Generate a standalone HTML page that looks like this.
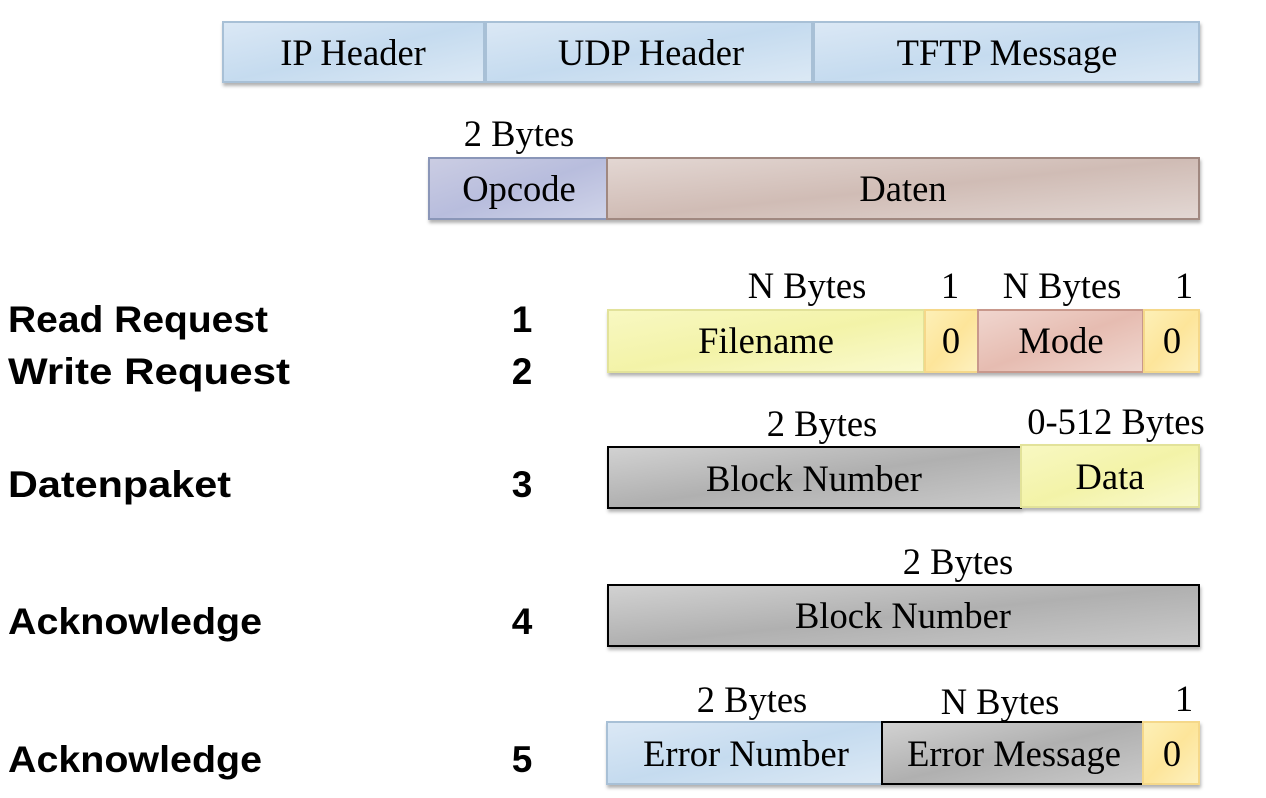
<!DOCTYPE html>
<html><head><meta charset="utf-8"><style>
html,body{margin:0;padding:0;background:#fff;}
svg{display:block}
.t{font-family:"Liberation Serif",serif;font-size:36.5px;fill:#000;text-anchor:middle}
.b{font-family:"Liberation Sans",sans-serif;font-weight:bold;font-size:37px;fill:#000}
.n{font-family:"Liberation Sans",sans-serif;font-weight:bold;font-size:37px;fill:#000;text-anchor:middle}
</style></head><body>
<svg width="1266" height="798" viewBox="0 0 1266 798" xmlns="http://www.w3.org/2000/svg">
<defs>
<linearGradient id="blue" x1="0" y1="0" x2="1" y2="1"><stop offset="0" stop-color="#dbe8f5"/><stop offset=".5" stop-color="#c5dbef"/><stop offset="1" stop-color="#dce9f5"/></linearGradient>
<linearGradient id="purp" x1="0" y1="0" x2="1" y2="1"><stop offset="0" stop-color="#cbcde3"/><stop offset=".5" stop-color="#b8bddd"/><stop offset="1" stop-color="#d0d4e9"/></linearGradient>
<linearGradient id="brown" x1="0" y1="0" x2="1" y2="1"><stop offset="0" stop-color="#e3d7d3"/><stop offset=".5" stop-color="#d0bcb5"/><stop offset="1" stop-color="#e3d8d4"/></linearGradient>
<linearGradient id="yel" x1="0" y1="0" x2="1" y2="1"><stop offset="0" stop-color="#f8f8c2"/><stop offset=".5" stop-color="#f3f3a8"/><stop offset="1" stop-color="#fafad0"/></linearGradient>
<linearGradient id="org" x1="0" y1="0" x2="1" y2="1"><stop offset="0" stop-color="#fdf0b8"/><stop offset=".5" stop-color="#fde59a"/><stop offset="1" stop-color="#fdf1c0"/></linearGradient>
<linearGradient id="pink" x1="0" y1="0" x2="1" y2="1"><stop offset="0" stop-color="#f0d6cf"/><stop offset=".5" stop-color="#e6bcb1"/><stop offset="1" stop-color="#f0d8d1"/></linearGradient>
<linearGradient id="gray" x1="0" y1="0" x2="1" y2="1"><stop offset="0" stop-color="#d2d2d2"/><stop offset=".5" stop-color="#b0b0b0"/><stop offset="1" stop-color="#cacaca"/></linearGradient>
<filter id="sh" x="-5%" y="-10%" width="110%" height="130%"><feDropShadow dx="1" dy="3" stdDeviation="1.5" flood-color="#000" flood-opacity="0.3"/></filter>
</defs>

<g filter="url(#sh)">
<rect x="223" y="22" width="261" height="60" fill="url(#blue)" stroke="#a8c0d6" stroke-width="2"/>
<rect x="486" y="22" width="326" height="60" fill="url(#blue)" stroke="#a8c0d6" stroke-width="2"/>
<rect x="814" y="22" width="385" height="60" fill="url(#blue)" stroke="#a8c0d6" stroke-width="2"/>
</g>
<text class="t" x="353" y="65">IP Header</text>
<text class="t" x="651" y="65">UDP Header</text>
<text class="t" x="1007" y="65">TFTP Message</text>

<text class="t" x="519" y="146">2 Bytes</text>
<g filter="url(#sh)">
<rect x="429" y="158" width="178" height="61" fill="url(#purp)" stroke="#8a96b8" stroke-width="2"/>
<rect x="607" y="158" width="592" height="61" fill="url(#brown)" stroke="#a08880" stroke-width="2"/>
</g>
<text class="t" x="519" y="201">Opcode</text>
<text class="t" x="903" y="201">Daten</text>

<text class="b" x="8" y="332" textLength="260" lengthAdjust="spacingAndGlyphs">Read Request</text>
<text class="b" x="8" y="384" textLength="282" lengthAdjust="spacingAndGlyphs">Write Request</text>
<text class="b" x="8" y="497" textLength="223" lengthAdjust="spacingAndGlyphs">Datenpaket</text>
<text class="b" x="8" y="634" textLength="254" lengthAdjust="spacingAndGlyphs">Acknowledge</text>
<text class="b" x="8" y="772" textLength="254" lengthAdjust="spacingAndGlyphs">Acknowledge</text>
<text class="n" x="522" y="332">1</text>
<text class="n" x="522" y="384">2</text>
<text class="n" x="522" y="497">3</text>
<text class="n" x="522" y="634">4</text>
<text class="n" x="522" y="772">5</text>

<text class="t" x="807" y="298">N Bytes</text>
<text class="t" x="950" y="298">1</text>
<text class="t" x="1062" y="298">N Bytes</text>
<text class="t" x="1184" y="298">1</text>
<g filter="url(#sh)">
<rect x="608" y="310" width="316" height="62" fill="url(#yel)" stroke="#e2e29a" stroke-width="2"/>
<rect x="925" y="310" width="53" height="62" fill="url(#org)" stroke="#f5d88a" stroke-width="2"/>
<rect x="978" y="310" width="165" height="62" fill="url(#pink)" stroke="#c8988c" stroke-width="2"/>
<rect x="1144" y="310" width="55" height="62" fill="url(#org)" stroke="#f5d88a" stroke-width="2"/>
</g>
<text class="t" x="766" y="353">Filename</text>
<text class="t" x="951" y="353">0</text>
<text class="t" x="1061" y="353">Mode</text>
<text class="t" x="1172" y="353">0</text>

<text class="t" x="822" y="436">2 Bytes</text>
<text class="t" x="1116" y="434">0-512 Bytes</text>
<g filter="url(#sh)">
<rect x="608" y="447" width="413" height="61" fill="url(#gray)" stroke="#000" stroke-width="2"/>
<rect x="1021" y="445" width="178" height="62" fill="url(#yel)" stroke="#e2e29a" stroke-width="2"/>
</g>
<text class="t" x="814" y="491">Block Number</text>
<text class="t" x="1110" y="489">Data</text>

<text class="t" x="958" y="574">2 Bytes</text>
<g filter="url(#sh)">
<rect x="608" y="585" width="591" height="61" fill="url(#gray)" stroke="#000" stroke-width="2"/>
</g>
<text class="t" x="903" y="628">Block Number</text>

<text class="t" x="752" y="712">2 Bytes</text>
<text class="t" x="1000" y="714">N Bytes</text>
<text class="t" x="1184" y="711">1</text>
<g filter="url(#sh)">
<rect x="607" y="722" width="275" height="62" fill="url(#blue)" stroke="#a8c0d6" stroke-width="2"/>
<rect x="882" y="722" width="261" height="62" fill="url(#gray)" stroke="#000" stroke-width="2"/>
<rect x="1143" y="722" width="56" height="62" fill="url(#org)" stroke="#f5d88a" stroke-width="2"/>
</g>
<text class="t" x="746" y="766">Error Number</text>
<text class="t" x="1014" y="766">Error Message</text>
<text class="t" x="1172" y="766">0</text>
</svg>
</body></html>
